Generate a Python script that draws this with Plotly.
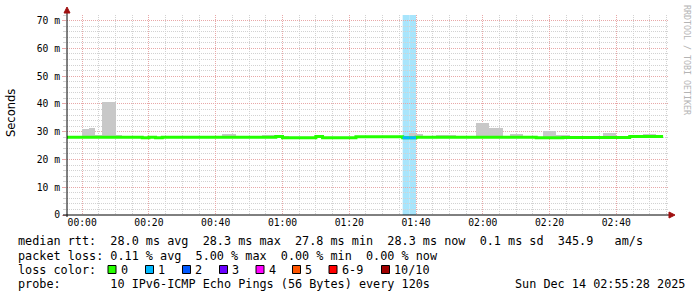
import plotly.graph_objects as go
from datetime import datetime, timedelta

# ---------------- data ----------------
T0 = datetime(2025, 12, 14, 0, 0, 0)
START = datetime(2025, 12, 13, 23, 55, 28)
END = datetime(2025, 12, 14, 2, 55, 28)
STEP_MIN = 2
bin_start_min = list(range(-6, 174, STEP_MIN))  # bin starts, minutes after 00:00

median_ms = [
    28.0, 28.0, 28.0, 28.0, 28.0, 28.0, 28.0, 28.0, 28.0, 28.0,
    28.0, 28.0, 27.8, 28.0, 27.8, 28.0, 28.0, 28.0, 28.0, 28.0,
    28.0, 28.0, 28.0, 28.0, 28.0, 28.0, 28.0, 28.0, 28.0, 28.0,
    28.0, 28.0, 28.3, 27.8, 27.8, 27.8, 27.8, 27.8, 28.3, 27.8,
    27.8, 27.8, 27.8, 27.8, 28.2, 28.2, 28.2, 28.2, 28.2, 28.2,
    28.2, 27.8, 27.8, 28.0, 28.0, 28.0, 28.0, 28.0, 28.0, 28.0,
    28.0, 28.0, 28.0, 28.0, 28.0, 28.0, 28.0, 28.0, 28.0, 28.0,
    28.0, 27.8, 27.8, 27.8, 27.8, 27.9, 27.9, 27.9, 27.9, 27.9,
    27.9, 27.9, 27.9, 27.9, 27.9, 28.3, 28.3, 28.3, 28.3, 28.3,
]

smoke_top_ms = [
    None, None, None, 30.9, 31.4, 28.7, 40.7, 40.7, 28.7, 28.6,
    None, None, None, None, None, None, None, None, None, None,
    None, None, None, None, 29.0, 29.0, None, 28.4, None, None,
    28.8, 28.8, None, 28.4, None, None, None, None, None, None,
    None, None, None, None, None, None, None, None, None, None,
    None, None, 29.4, 29.0, None, None, 28.7, 28.7, 28.7, None,
    None, None, 33.0, 33.0, 31.3, 31.3, None, 29.1, 29.1, None,
    None, None, 30.1, 30.1, 28.7, 28.7, None, None, None, None,
    None, 29.5, 29.5, None, None, None, None, 29.3, 29.3, 28.7,
]

loss_count = [0] * 90
loss_count[51] = 1
loss_count[52] = 1

y_tick_vals = [0, 10, 20, 30, 40, 50, 60, 70]
y_tick_text = ["0", "10 m", "20 m", "30 m", "40 m", "50 m", "60 m", "70 m"]

loss_legend = ["0", "1", "2", "3", "4", "5", "6-9", "10/10"]
loss_colors = ["#26ff00", "#00b8ff", "#0059ff", "#6a00ff", "#ff00ff", "#ff5500", "#ff0000", "#a10000"]
loss_bg = {1: "#a8e5fc"}

legend_line1 = "median rtt:  28.0 ms avg  28.3 ms max  27.8 ms min  28.3 ms now  0.1 ms sd  345.9   am/s"
legend_line2 = "packet loss: 0.11 % avg  5.00 % max  0.00 % min  0.00 % now"
legend_line3 = "loss color:"
legend_line4 = "probe:       10 IPv6-ICMP Echo Pings (56 Bytes) every 120s"
timestamp = "Sun Dec 14 02:55:28 2025"

# ---------------- geometry helpers (pixels -> paper) ----------------
W, H = 697, 297
L, R, T, B = 67, 29, 15, 82
PW, PH = W - L - R, H - T - B


def px(x):
    return (x - L) / PW


def py(y):
    return (H - B - y) / PH


MONO = "DejaVu Sans Mono"

times = [T0 + timedelta(minutes=m) for m in bin_start_min]
step = timedelta(minutes=STEP_MIN)
end_time = times[-1] + step

fig = go.Figure()

# smoke
sx, sy, sb = [], [], []
for t, top, med in zip(times, smoke_top_ms, median_ms):
    if top is not None:
        sx.append(t + step / 2)
        sy.append(top - med)
        sb.append(med)
fig.add_trace(go.Bar(x=sx, y=sy, base=sb, width=STEP_MIN * 60000,
                     marker=dict(color="#c8c8c8", line=dict(width=0)),
                     hoverinfo="skip", showlegend=False))

# median line
fig.add_trace(go.Scatter(x=times + [end_time], y=median_ms + [median_ms[-1]],
                         mode="lines", line=dict(color=loss_colors[0], width=3, shape="hv"),
                         hoverinfo="skip", showlegend=False))

shapes = []
# loss coloured segments and backgrounds
for t, med, lc in zip(times, median_ms, loss_count):
    if lc > 0:
        fig.add_trace(go.Scatter(x=[t, t + step], y=[med, med], mode="lines",
                                 line=dict(color=loss_colors[lc], width=3),
                                 hoverinfo="skip", showlegend=False))
        shapes.append(dict(type="rect", xref="x", yref="paper", x0=t, x1=t + step,
                           y0=0, y1=1, fillcolor=loss_bg[lc], line=dict(width=0),
                           layer="below"))

# axis lines and arrows
shapes.append(dict(type="line", xref="paper", yref="paper", x0=px(67), x1=px(67),
                   y0=py(217), y1=py(11), line=dict(color="black", width=1)))
shapes.append(dict(type="line", xref="paper", yref="paper", x0=px(63), x1=px(670),
                   y0=py(215), y1=py(215), line=dict(color="black", width=1)))
shapes.append(dict(type="path", xref="paper", yref="paper",
                   path=f"M {px(64)},{py(13)} L {px(70)},{py(13)} L {px(67)},{py(7)} Z",
                   fillcolor="#a01010", line=dict(color="#a01010", width=1)))
shapes.append(dict(type="path", xref="paper", yref="paper",
                   path=f"M {px(669)},{py(212)} L {px(669)},{py(218)} L {px(675)},{py(215)} Z",
                   fillcolor="#a01010", line=dict(color="#a01010", width=1)))

annotations = []


def txt(x, y, s, size=11.8, color="black", family=MONO, angle=0, xanchor="left"):
    annotations.append(dict(x=px(x), y=py(y), xref="paper", yref="paper",
                            text=s.replace(" ", "\u00a0"), showarrow=False,
                            xanchor=xanchor, yanchor="middle", textangle=angle,
                            font=dict(family=family, size=size, color=color)))


txt(16, 241, legend_line1)
txt(16, 255.5, legend_line2)
txt(16, 269.5, legend_line3)
txt(16, 283.5, legend_line4)
txt(513, 283.5, timestamp)

square_x = [108, 145.5, 182.5, 219.5, 256, 292.5, 329, 381.5]
for sqx, lab, col in zip(square_x, loss_legend, loss_colors):
    shapes.append(dict(type="rect", xref="paper", yref="paper",
                       x0=px(sqx), x1=px(sqx + 8), y0=py(273.5), y1=py(265.5),
                       fillcolor=col, line=dict(color="black", width=1)))
    txt(sqx + 10.5, 269.5, lab)

annotations.append(dict(x=px(11), y=py(113), xref="paper", yref="paper", text="Seconds",
                        showarrow=False, textangle=-90, xanchor="center", yanchor="middle",
                        font=dict(family="DejaVu Sans", size=11.5, color="black")))
annotations.append(dict(x=px(687), y=py(60), xref="paper", yref="paper",
                        text="RRDTOOL / TOBI OETIKER", showarrow=False, textangle=90,
                        xanchor="center", yanchor="middle",
                        font=dict(family=MONO, size=8.3, color="#b4b4b4")))

MAJOR = "#e8a8a8"
MINOR = "#d2d2d2"
DASH = "1px,1px"

fig.update_layout(
    width=W, height=H,
    margin=dict(l=L, r=R, t=T, b=B, pad=0),
    paper_bgcolor="white", plot_bgcolor="white",
    barmode="overlay", bargap=0,
    showlegend=False,
    shapes=shapes, annotations=annotations,
    xaxis=dict(type="date", range=[START, END], tickformat="%H:%M",
               tick0=T0, dtick=20 * 60000, showgrid=True, gridcolor=MAJOR, griddash=DASH,
               gridwidth=1, zeroline=False, showline=False, ticks="",
               tickfont=dict(family=MONO, size=9.7, color="black"),
               minor=dict(tick0=T0, dtick=5 * 60000, showgrid=True, gridcolor=MINOR,
                          griddash=DASH, gridwidth=1),
               fixedrange=True),
    yaxis=dict(range=[0, 72], tickvals=y_tick_vals, ticktext=y_tick_text,
               showgrid=True, gridcolor=MAJOR, griddash=DASH, gridwidth=1,
               zeroline=False, showline=False, ticks="outside", ticklen=4, tickcolor=MAJOR,
               tickfont=dict(family=MONO, size=9.7, color="black"),
               minor=dict(dtick=2, showgrid=True, gridcolor=MINOR, griddash=DASH,
                          ticks="outside", ticklen=3, tickcolor=MINOR),
               fixedrange=True),
)

fig.write_html("out.html")
